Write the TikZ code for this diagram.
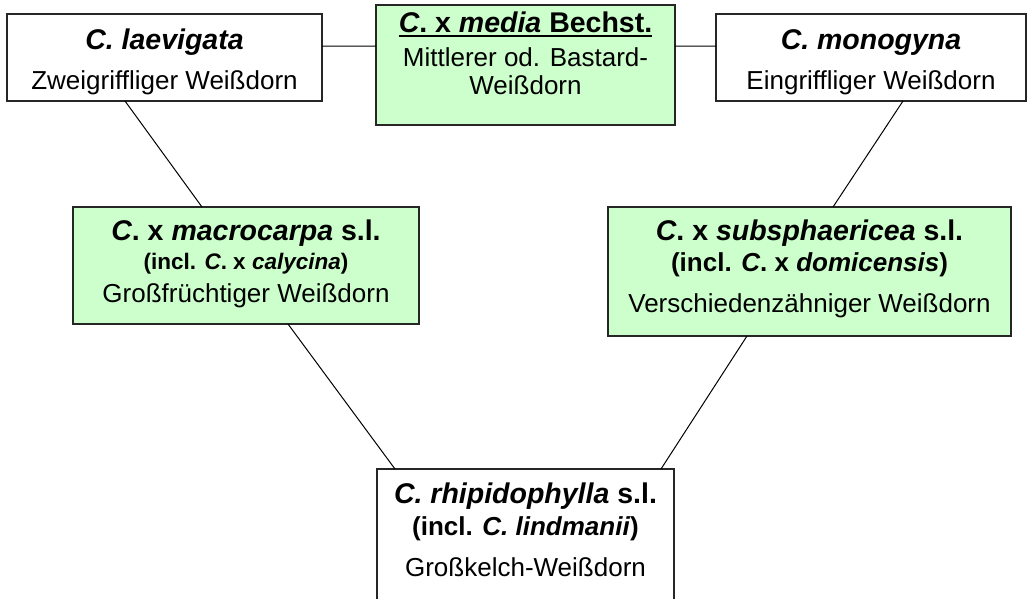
\documentclass[tikz,border=0pt]{standalone}
\usepackage{fontspec}
\setmainfont{Liberation Sans}
\usetikzlibrary{calc}
\definecolor{boxgreen}{HTML}{CCFFCC}
\begin{document}
\begin{tikzpicture}[x=1pt,y=-1pt,
  box/.style={draw=black!85, line width=1.3pt, inner sep=0pt, outer sep=0pt, anchor=north west, fill=white},
  greenbox/.style={box, fill=boxgreen},
  ttl/.style={anchor=base, inner sep=0pt, font=\fontsize{28.5}{30}\selectfont\bfseries},
  lntwo/.style={anchor=base, inner sep=0pt, font=\fontsize{26}{28}\selectfont\bfseries},
  body/.style={anchor=base, inner sep=0pt, font=\fontsize{26}{28}\selectfont},
  conn/.style={draw=black, line width=1pt}]
\useasboundingbox (0,0) rectangle (1028,598);
% boxes
\node[box, minimum width=315pt, minimum height=87pt] (lae) at (7,14) {};
\node[greenbox, minimum width=299pt, minimum height=120pt] (med) at (376,5) {};
\node[box, minimum width=310pt, minimum height=87pt] (mon) at (716,14) {};
\node[greenbox, minimum width=346pt, minimum height=117pt] (mac) at (73,207) {};
\node[greenbox, minimum width=403pt, minimum height=129pt] (sub) at (608,207) {};
\node[box, minimum width=297pt, minimum height=135pt] (rhi) at (377,469) {};
% connector end points
\coordinate (lae-r) at ($(lae.north east)!0.368!(lae.south east)$);
\coordinate (med-l) at ($(med.north west)!0.3417!(med.south west)$);
\coordinate (med-r) at ($(med.north east)!0.3417!(med.south east)$);
\coordinate (mon-l) at ($(mon.north west)!0.368!(mon.south west)$);
\coordinate (lae-b) at ($(lae.south west)!0.3746!(lae.south east)$);
\coordinate (mac-t) at ($(mac.north west)!0.3728!(mac.north east)$);
\coordinate (mon-b) at ($(mon.south west)!0.6032!(mon.south east)$);
\coordinate (sub-t) at ($(sub.north west)!0.5583!(sub.north east)$);
\coordinate (mac-b) at ($(mac.south west)!0.6214!(mac.south east)$);
\coordinate (rhi-tl) at ($(rhi.north west)!0.0606!(rhi.north east)$);
\coordinate (sub-b) at ($(sub.south west)!0.3449!(sub.south east)$);
\coordinate (rhi-tr) at ($(rhi.north west)!0.9562!(rhi.north east)$);
% connectors
\draw[conn] (lae-r) -- (med-l);
\draw[conn] (med-r) -- (mon-l);
\draw[conn] (lae-b) -- (mac-t);
\draw[conn] (mon-b) -- (sub-t);
\draw[conn] (mac-b) -- (rhi-tl);
\draw[conn] (sub-b) -- (rhi-tr);
% texts
\node[ttl] (lae-ta) at (164.5,49) {\textit{C. laevigata}};
\node[body] (lae-tb) at (164.5,89) {Zweigriffliger Weißdorn};
\node[ttl] (med-ta) at (525.5,32) {\textit{C}. x \textit{media} Bechst.};
\draw[line width=2pt] ([yshift=-4pt]med-ta.base west) -- ([yshift=-4pt]med-ta.base east);
\node[body] (med-tb) at (525.5,66) {Mittlerer od. Bastard-};
\node[body] (med-tc) at (525.5,94) {Weißdorn};
\node[ttl] (mon-ta) at (871,49) {\textit{C. monogyna}};
\node[body] (mon-tb) at (871,89) {Eingriffliger Weißdorn};
\node[ttl] (mac-ta) at (246,240) {\textit{C}. x \textit{macrocarpa} s.l.};
\node[lntwo, font=\fontsize{22.5}{24}\selectfont\bfseries] (mac-tb) at (246,269) {(incl. \textit{C}. x \textit{calycina})};
\node[body] (mac-tc) at (246,302) {Großfrüchtiger Weißdorn};
\node[ttl] (sub-ta) at (809.5,240) {\textit{C}. x \textit{subsphaericea} s.l.};
\node[lntwo] (sub-tb) at (809.5,271) {(incl. \textit{C}. x \textit{domicensis})};
\node[body] (sub-tc) at (809.5,312) {Verschiedenzähniger Weißdorn};
\node[ttl] (rhi-ta) at (525.5,503) {\textit{C. rhipidophylla} s.l.};
\node[lntwo] (rhi-tb) at (525.5,535) {(incl. \textit{C. lindmanii})};
\node[body] (rhi-tc) at (525.5,576) {Großkelch-Weißdorn};
\end{tikzpicture}
\end{document}
